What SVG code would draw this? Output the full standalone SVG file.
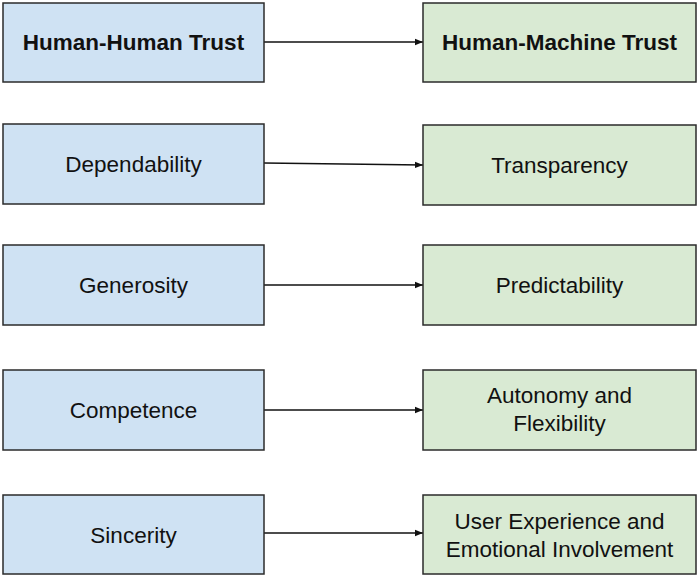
<svg xmlns="http://www.w3.org/2000/svg" width="699" height="577" viewBox="0 0 699 577">
<style>
.l{fill:#cfe2f3;stroke:#2b2b2b;stroke-width:1.5}
.r{fill:#d9ead3;stroke:#2b2b2b;stroke-width:1.5}
text{font-family:"Liberation Sans",Arial,sans-serif;font-size:22.5px;fill:#111;text-anchor:middle}
.b{font-weight:bold}
.c{stroke:#111;stroke-width:1.4;fill:none;marker-end:url(#ah)}
</style>
<defs>
<marker id="ah" viewBox="0 0 10 10" refX="10" refY="5" markerWidth="8" markerHeight="8" markerUnits="userSpaceOnUse" orient="auto">
<path d="M0,1 L10,5 L0,9 z" fill="#111"/>
</marker>
</defs>
<rect width="699" height="577" fill="#fff"/>
<g id="connectors">
<line class="c" x1="264" y1="42" x2="423" y2="42"/>
<line class="c" x1="264" y1="163" x2="423" y2="165"/>
<line class="c" x1="264" y1="285" x2="423" y2="285"/>
<line class="c" x1="264" y1="410" x2="423" y2="410"/>
<line class="c" x1="264" y1="533" x2="423" y2="533"/>
</g>
<g id="hh"><rect class="l" x="3" y="3" width="261" height="79"/><text class="b" x="133.5" y="50">Human-Human Trust</text></g>
<g id="hm"><rect class="r" x="423" y="3" width="273" height="79"/><text class="b" x="559.5" y="50">Human-Machine Trust</text></g>
<g id="dep"><rect class="l" x="3" y="124" width="261" height="80"/><text x="133.5" y="172">Dependability</text></g>
<g id="tra"><rect class="r" x="423" y="125" width="273" height="80"/><text x="559.5" y="173">Transparency</text></g>
<g id="gen"><rect class="l" x="3" y="245" width="261" height="80"/><text x="133.5" y="293">Generosity</text></g>
<g id="pre"><rect class="r" x="423" y="245" width="273" height="80"/><text x="559.5" y="293">Predictability</text></g>
<g id="com"><rect class="l" x="3" y="370" width="261" height="80"/><text x="133.5" y="418">Competence</text></g>
<g id="aut"><rect class="r" x="423" y="370" width="273" height="80"/><text x="559.5" y="403">Autonomy and</text><text x="559.5" y="431">Flexibility</text></g>
<g id="sin"><rect class="l" x="3" y="495" width="261" height="79"/><text x="133.5" y="543">Sincerity</text></g>
<g id="ux"><rect class="r" x="423" y="495" width="273" height="79"/><text x="559.5" y="529">User Experience and</text><text x="559.5" y="557">Emotional Involvement</text></g>
</svg>
